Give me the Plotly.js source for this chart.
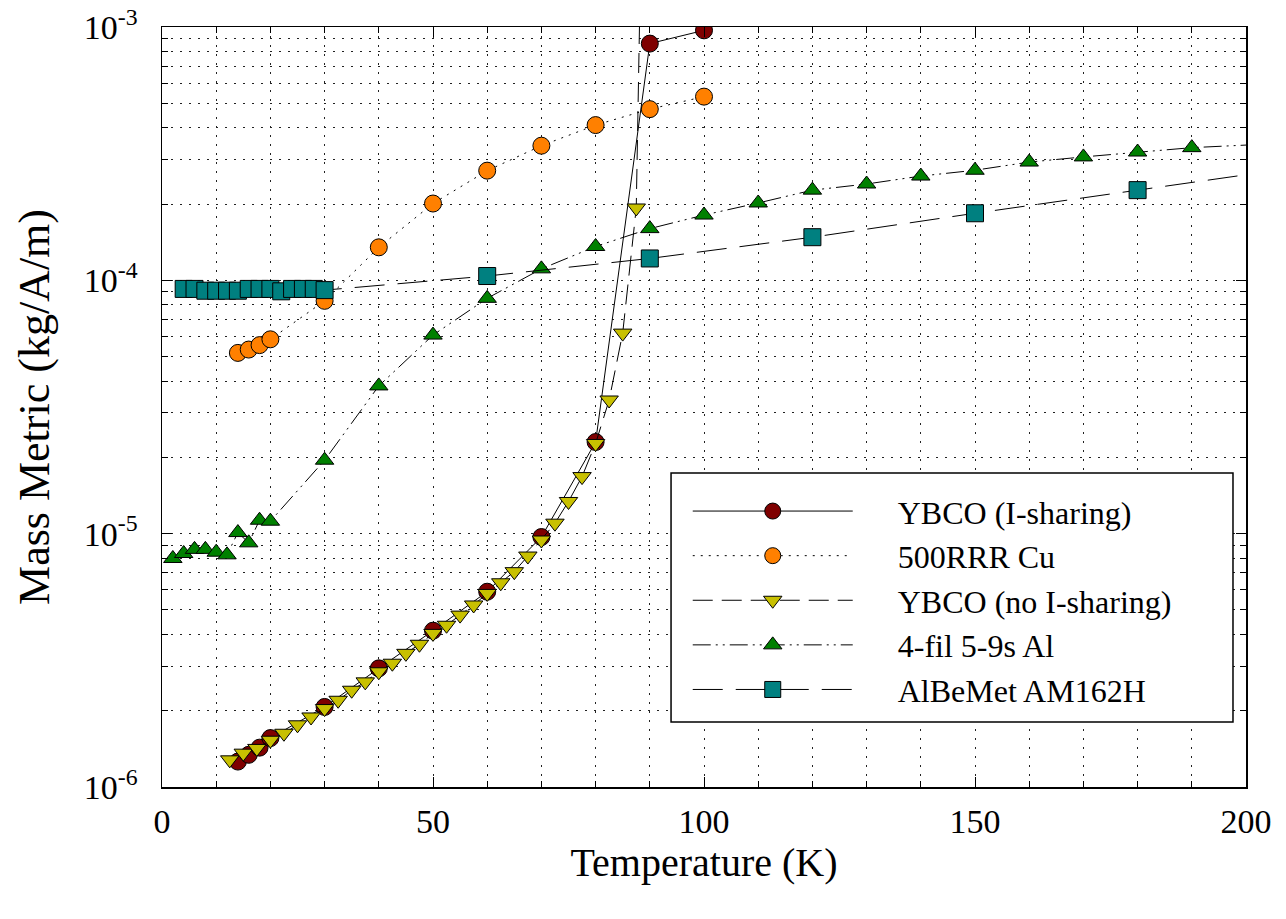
<!DOCTYPE html>
<html>
<head>
<meta charset="utf-8">
<script src="https://cdn.plot.ly/plotly-3.0.1.min.js"></script>
<style>html,body{margin:0;padding:0;background:#fff;}#chart{width:1286px;height:919px;}</style>
</head>
<body>
<div id="chart"></div>
<script>
// ---- data ----
var seriesNames = ['YBCO (I-sharing)', '500RRR Cu', 'YBCO (no I-sharing)', '4-fil 5-9s Al', 'AlBeMet AM162H'];

var ybcoShareT = [14, 16, 18, 20, 30, 40, 50, 60, 70, 80, 90, 100];
var ybcoShareM = [1.26e-6, 1.34e-6, 1.43e-6, 1.56e-6, 2.07e-6, 2.94e-6, 4.14e-6, 5.9e-6, 9.7e-6, 2.3e-5, 8.6e-4, 9.7e-4];

var cuT = [14, 16, 18, 20, 30, 40, 50, 60, 70, 80, 90, 100];
var cuM = [5.17e-5, 5.33e-5, 5.55e-5, 5.85e-5, 8.3e-5, 1.35e-4, 2.01e-4, 2.71e-4, 3.40e-4, 4.10e-4, 4.74e-4, 5.31e-4];

var ybcoNoShareT = [12.5, 15, 17.5, 20, 22.5, 25, 27.5, 30, 32.5, 35, 37.5, 40, 42.5, 45, 47.5, 50,
                    52.5, 55, 57.5, 60, 62.5, 65, 67.5, 70, 72.5, 75, 77.5, 80, 82.5, 85, 87.5, 90];
var ybcoNoShareM = [1.28e-6, 1.36e-6, 1.42e-6, 1.53e-6, 1.63e-6, 1.76e-6, 1.89e-6, 2.04e-6,
                    2.20e-6, 2.41e-6, 2.60e-6, 2.85e-6, 3.08e-6, 3.37e-6, 3.66e-6, 4.04e-6,
                    4.35e-6, 4.77e-6, 5.23e-6, 5.81e-6, 6.40e-6, 7.08e-6, 8.16e-6, 9.44e-6,
                    1.10e-5, 1.34e-5, 1.68e-5, 2.27e-5, 3.37e-5, 6.19e-5, 1.93e-4, 2.0e-1];

var alT = [2, 4, 6, 8, 10, 12, 14, 16, 18, 20, 30, 40, 50, 60, 70, 80, 90, 100, 110, 120, 130, 140, 150, 160, 170, 180, 190, 210];
var alM = [7.98e-6, 8.35e-6, 8.67e-6, 8.67e-6, 8.45e-6, 8.25e-6, 1.01e-5, 9.2e-6, 1.13e-5, 1.12e-5,
           1.95e-5, 3.83e-5, 6.08e-5, 8.49e-5, 1.11e-4, 1.36e-4, 1.60e-4, 1.81e-4, 2.02e-4, 2.27e-4,
           2.40e-4, 2.58e-4, 2.72e-4, 2.93e-4, 3.07e-4, 3.21e-4, 3.34e-4, 3.5e-4];

var albemetT = [4, 6, 8, 10, 12, 14, 16, 18, 20, 22, 24, 26, 28, 30, 60, 90, 120, 150, 180, 210];
var albemetM = [9.25e-5, 9.25e-5, 9.1e-5, 9.1e-5, 9.1e-5, 9.1e-5, 9.25e-5, 9.25e-5, 9.25e-5, 9.05e-5,
                9.25e-5, 9.25e-5, 9.25e-5, 9.15e-5, 1.04e-4, 1.22e-4, 1.48e-4, 1.84e-4, 2.27e-4, 2.8e-4];

var xTickVals = [0, 50, 100, 150, 200];
var yTickVals = [1e-6, 1e-5, 1e-4, 1e-3];
var yTickText = ['10<sup>-6</sup>', '10<sup>-5</sup>', '10<sup>-4</sup>', '10<sup>-3</sup>'];
var yMinorVals = [2e-6, 3e-6, 4e-6, 5e-6, 6e-6, 7e-6, 8e-6, 9e-6,
                  2e-5, 3e-5, 4e-5, 5e-5, 6e-5, 7e-5, 8e-5, 9e-5,
                  2e-4, 3e-4, 4e-4, 5e-4, 6e-4, 7e-4, 8e-4, 9e-4];

// ---- styling ----
var FONT = 'Liberation Serif';
var GRID = '#222';
var GRIDDASH = '2px,7px';
var NAMEPAD = '\u00A0\u00A0\u00A0\u00A0\u00A0';

function trace(x, y, name, color, symbol, size, dash) {
  return {
    x: x, y: y, name: NAMEPAD + name, type: 'scatter', mode: 'lines+markers',
    line: {color: '#000', width: 1, dash: dash},
    marker: {color: color, symbol: symbol, size: size, line: {color: '#000', width: 1}},
    cliponaxis: true
  };
}

var data = [
  trace(ybcoShareT, ybcoShareM, seriesNames[0], '#7f0000', 'circle', 17, 'solid'),
  trace(cuT, cuM, seriesNames[1], '#ff8000', 'circle', 17, '2px,6px'),
  trace(ybcoNoShareT, ybcoNoShareM, seriesNames[2], '#c8c000', 'triangle-down', 16, '20px,9px'),
  trace(alT, alM, seriesNames[3], '#008000', 'triangle-up', 16, '18px,5px,2px,5px,2px,5px'),
  trace(albemetT, albemetM, seriesNames[4], '#008080', 'square', 17, '30px,13px')
];

var layout = {
  width: 1286, height: 919,
  margin: {l: 162, r: 40, t: 27, b: 132},
  paper_bgcolor: '#fff', plot_bgcolor: '#fff',
  font: {family: FONT, color: '#000', size: 34},
  showlegend: true,
  legend: {
    x: 0.485, y: 0.399, xanchor: 'left', yanchor: 'top',
    bgcolor: 'rgba(0,0,0,0)', borderwidth: 0,
    font: {family: FONT, size: 32, color: '#000'},
    itemwidth: 160, tracegroupgap: 0
  },
  xaxis: {
    range: [0, 200], tickmode: 'array', tickvals: xTickVals,
    ticks: 'inside', ticklen: 10, tickwidth: 1, tickcolor: '#000',
    showline: true, linewidth: 1.5, linecolor: '#000', mirror: 'allticks',
    showgrid: true, gridcolor: GRID, gridwidth: 1, griddash: GRIDDASH, zeroline: false,
    tickfont: {family: FONT, size: 34}, ticklabelstandoff: 4,
    minor: {dtick: 10, ticks: 'inside', ticklen: 6, tickwidth: 1, tickcolor: '#000',
            showgrid: true, gridcolor: GRID, gridwidth: 1, griddash: GRIDDASH},
    title: {text: 'Temperature (K)', font: {family: FONT, size: 40}, standoff: 4}
  },
  yaxis: {
    type: 'log', range: [-6, -3], tickmode: 'array', tickvals: yTickVals, ticktext: yTickText,
    ticks: 'inside', ticklen: 10, tickwidth: 1, tickcolor: '#000',
    showline: true, linewidth: 1.5, linecolor: '#000', mirror: 'allticks',
    showgrid: true, gridcolor: GRID, gridwidth: 1, griddash: GRIDDASH, zeroline: false,
    tickfont: {family: FONT, size: 34}, ticklabelstandoff: 16,
    minor: {tickmode: 'array', tickvals: yMinorVals, ticks: 'inside', ticklen: 6, tickwidth: 1, tickcolor: '#000',
            showgrid: true, gridcolor: GRID, gridwidth: 1, griddash: GRIDDASH},
    title: {text: 'Mass Metric (kg/A/m)', font: {family: FONT, size: 44}, standoff: 20}
  },
  shapes: [{
    type: 'rect', xref: 'paper', yref: 'paper', layer: 'above',
    x0: 0.4696, x1: 0.988, y0: 0.0855, y1: 0.413,
    fillcolor: '#fff', line: {color: '#000', width: 1.5}
  }]
};

Plotly.newPlot('chart', data, layout, {displayModeBar: false, staticPlot: true});
</script>
</body>
</html>
